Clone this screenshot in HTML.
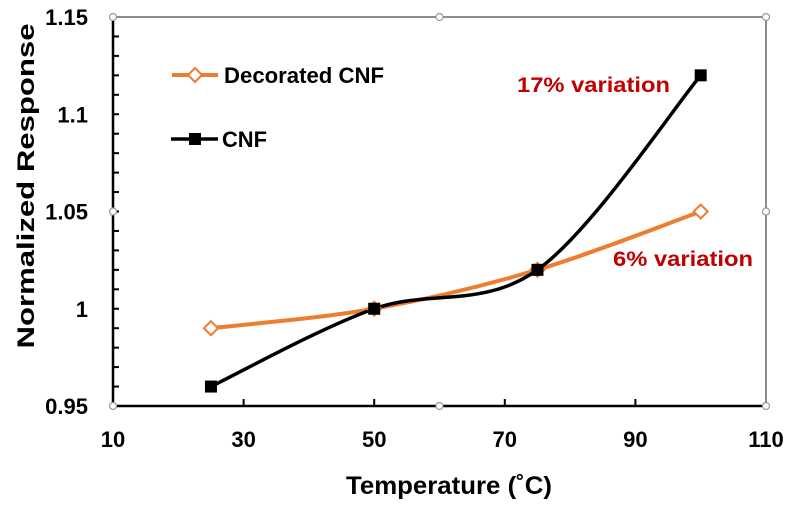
<!DOCTYPE html>
<html><head><meta charset="utf-8"><style>
body{margin:0;background:#fff;}
svg text{font-family:"Liberation Sans",sans-serif;font-weight:bold;}
</style></head><body>
<svg id="c" width="793" height="508" xmlns="http://www.w3.org/2000/svg">
<rect width="793" height="508" fill="#fff"/>
<g id="g"></g>
</svg>
<script>
const xTicks=[10,30,50,70,90,110];
const yTicks=[0.95,1,1.05,1.1,1.15];
const yTickLabels=["0.95","1","1.05","1.1","1.15"];
const temps=[25,50,75,100];
const decorated=[0.99,1.0,1.02,1.05];
const cnf=[0.96,1.0,1.02,1.12];
const L=113,R=766,T=17,B=406;
const sx=v=>L+(v-10)/100*(R-L);
const sy=v=>B-(v-0.95)/0.2*(B-T);
const g=document.getElementById('g');
const NS='http://www.w3.org/2000/svg';
function el(t,a,txt){const e=document.createElementNS(NS,t);for(const k in a)e.setAttribute(k,a[k]);if(txt!==undefined)e.textContent=txt;g.appendChild(e);return e;}
let e=el('rect',{x:L,y:T,width:R-L,height:B-T,fill:'none',stroke:'#8c8c8c','stroke-width':2});

e=el('line',{x1:L,y1:T,x2:L,y2:B,stroke:'#000','stroke-width':2.5});

e=el('line',{x1:L,y1:B,x2:R,y2:B,stroke:'#000','stroke-width':2.5});

for(let i=1;i<20;i++){const y=sy(0.95+i*0.01);e=el('line',{x1:L,y1:y,x2:L+6,y2:y,stroke:'#000','stroke-width':2});
}
xTicks.forEach((v,i)=>{const x=sx(v);
if(i>0&&i<xTicks.length-1){e=el('line',{x1:x,y1:B,x2:x,y2:B-7,stroke:'#000','stroke-width':2});
}
e=el('text',{x:x,y:447,'text-anchor':'middle','font-size':22,fill:'#000'},String(v));
});
yTicks.forEach((v,i)=>{e=el('text',{x:88,y:sy(v)+8,'text-anchor':'end','font-size':22,fill:'#000'},yTickLabels[i]);
});
[[L,T],[(L+R)/2,T],[R,T],[L,(T+B)/2],[R,(T+B)/2],[L,B],[(L+R)/2,B],[R,B]].forEach(p=>{
e=el('circle',{cx:p[0],cy:p[1],r:3.5,fill:'#fff',stroke:'#999','stroke-width':1.2});
});
e=el('text',{x:346,y:494,'font-size':25,fill:'#000',textLength:206,lengthAdjust:'spacingAndGlyphs'},'Temperature (˚C)');

e=el('text',{x:0,y:0,'text-anchor':'middle','font-size':24,fill:'#000',textLength:325,lengthAdjust:'spacingAndGlyphs',transform:'translate(34,186) rotate(-90)'},'Normalized Response');

function smooth(pts){let d='M'+pts[0][0]+','+pts[0][1];const t=1/6;
for(let i=0;i<pts.length-1;i++){const p0=pts[Math.max(i-1,0)],p1=pts[i],p2=pts[i+1],p3=pts[Math.min(i+2,pts.length-1)];
d+=' C'+(p1[0]+(p2[0]-p0[0])*t)+','+(p1[1]+(p2[1]-p0[1])*t)+' '+(p2[0]-(p3[0]-p1[0])*t)+','+(p2[1]-(p3[1]-p1[1])*t)+' '+p2[0]+','+p2[1];}
return d;}
const dp=temps.map((t,i)=>[sx(t),sy(decorated[i])]);
const cp=temps.map((t,i)=>[sx(t),sy(cnf[i])]);
e=el('path',{d:smooth(dp),fill:'none',stroke:'#ed7d31','stroke-width':4});

e=el('path',{d:smooth(cp),fill:'none',stroke:'#000','stroke-width':3.5});

dp.forEach(p=>{e=el('path',{d:`M${p[0]},${p[1]-7} L${p[0]+7},${p[1]} L${p[0]},${p[1]+7} L${p[0]-7},${p[1]} Z`,fill:'#fff',stroke:'#ed7d31','stroke-width':2});
});
cp.forEach(p=>{e=el('rect',{x:p[0]-6,y:p[1]-6,width:12,height:12,fill:'#000'});
});
e=el('line',{x1:172,y1:75,x2:218,y2:75,stroke:'#ed7d31','stroke-width':4});

e=el('path',{d:'M195,68 L202,75 L195,82 L188,75 Z',fill:'#fff',stroke:'#ed7d31','stroke-width':2});

e=el('text',{x:224,y:83,'font-size':22,fill:'#000',textLength:160,lengthAdjust:'spacingAndGlyphs'},'Decorated CNF');

e=el('line',{x1:171,y1:139,x2:218,y2:139,stroke:'#000','stroke-width':3.5});

e=el('rect',{x:189,y:133,width:12,height:12,fill:'#000'});

e=el('text',{x:222,y:147,'font-size':22,fill:'#000',textLength:45,lengthAdjust:'spacingAndGlyphs'},'CNF');

e=el('text',{x:517,y:92,'font-size':21,fill:'#c00000',textLength:153,lengthAdjust:'spacingAndGlyphs'},'17% variation');

e=el('text',{x:613,y:266,'font-size':21,fill:'#c00000',textLength:140,lengthAdjust:'spacingAndGlyphs'},'6% variation');

</script>
</body></html>
